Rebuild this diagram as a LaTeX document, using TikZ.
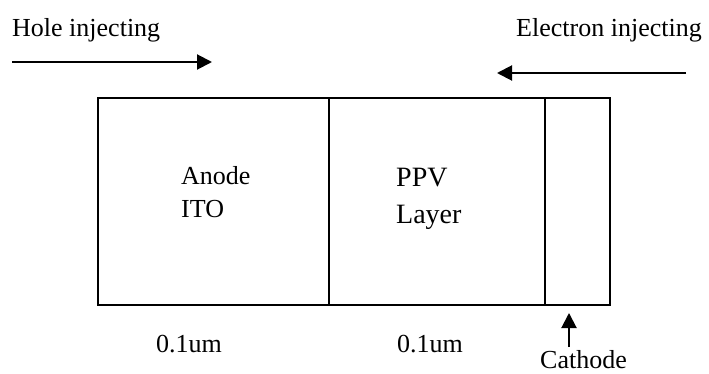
\documentclass[tikz,border=0pt]{standalone}
\usepackage{fontspec}
\setmainfont{Liberation Serif}
\usetikzlibrary{arrows.meta}
\begin{document}
\begin{tikzpicture}[x=1pt,y=-1pt,
  lbl/.style={anchor=base west,inner sep=0pt,font=\fontsize{26}{30}\selectfont},
  biglbl/.style={anchor=base west,inner sep=0pt,font=\fontsize{28}{32}\selectfont},
  layer/.style={draw,line width=2pt},
  injarrow/.style={line width=2pt,-{Triangle[length=15pt,width=15pt]}}]
\useasboundingbox (0,0) rectangle (709,374);
% layers
\draw[layer] (98,98) rectangle (329,305);
\draw[layer] (329,98) rectangle (545,305);
\draw[layer] (545,98) rectangle (610,305);
% top labels and arrows
\node[lbl] (hole) at (12,37) {Hole injecting};
\node[lbl] (elec) at (516,37) {Electron injecting};
\coordinate (h1) at (12,62);
\coordinate (h2) at (212,62);
\draw[injarrow] (h1) -- (h2);
\coordinate (e1) at (686,73);
\coordinate (e2) at (497,73);
\draw[injarrow] (e1) -- (e2);
% inside labels
\node[lbl] (anode) at (181,185) {Anode};
\node[lbl] (ito) at (181,218) {ITO};
\node[biglbl] (ppv) at (396,187) {PPV};
\node[biglbl] (layer) at (396,223) {Layer};
% bottom labels
\node[lbl] (t1) at (156,352) {0.1um};
\node[lbl] (t2) at (397,352) {0.1um};
\node[lbl] (cath) at (540,368) {Cathode};
\coordinate (c1) at (569,347);
\coordinate (c2) at (569,313);
\draw[injarrow] (c1) -- (c2);
\end{tikzpicture}
\end{document}
